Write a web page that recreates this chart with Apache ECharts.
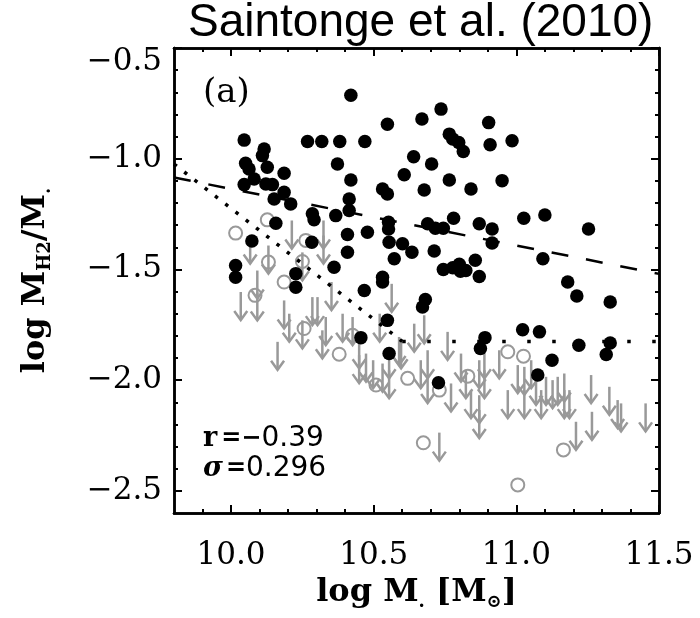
<!DOCTYPE html>
<html>
<head>
<meta charset="utf-8">
<script src="https://cdn.jsdelivr.net/npm/echarts@6/dist/echarts.min.js"></script>
<style>html,body{margin:0;padding:0;background:#fff}#c{width:700px;height:618px}</style>
</head>
<body>
<div id="c"></div>
<script>
// ---- data ----
const titleText = 'Saintonge et al. (2010)';
const xMajorTicks = [10.0, 10.5, 11.0, 11.5];
const xMinorTicks = [9.9, 10.1, 10.2, 10.3, 10.4, 10.6, 10.7, 10.8, 10.9, 11.1, 11.2, 11.3, 11.4];
const yMajorTicks = [-2.5, -2.0, -1.5, -1.0, -0.5];
const yMinorTicks = [-2.4, -2.3, -2.2, -2.1, -1.9, -1.8, -1.7, -1.6, -1.4, -1.3, -1.2, -1.1, -0.9, -0.8, -0.7, -0.6];

// detections (black filled circles)
const detections = [
[10.42,-0.713],[10.548,-0.844],[10.046,-0.916],[10.268,-0.922],[10.318,-0.922],[10.381,-0.922],[10.469,-0.922],
[10.116,-0.956],[10.110,-0.986],[10.051,-1.021],[10.063,-1.046],[10.127,-1.039],[10.186,-1.066],[10.373,-1.024],
[10.42,-1.096],[10.081,-1.092],[10.046,-1.117],[10.122,-1.114],[10.145,-1.117],[10.186,-1.152],[10.151,-1.182],
[10.209,-1.204],[10.285,-1.249],[10.291,-1.276],[10.367,-1.257],[10.414,-1.182],[10.414,-1.234],[10.531,-1.137],
[10.548,-1.159],[10.607,-1.072],[10.157,-1.291],[10.478,-1.332],[10.408,-1.342],[10.408,-1.422],[10.552,-1.287],
[10.552,-1.317],[10.554,-1.377],[10.601,-1.384],[10.634,-1.422],[10.572,-1.452],[10.073,-1.372],[10.283,-1.377],
[10.016,-1.482],[10.016,-1.535],[10.227,-1.519],[10.227,-1.580],[10.361,-1.490],[10.467,-1.595],[10.531,-1.535],
[10.531,-1.557],[10.548,-1.730],[10.455,-1.808],[10.554,-1.880],
[10.736,-0.776],[10.669,-0.821],[10.903,-0.837],[10.765,-0.889],[10.777,-0.911],[10.798,-0.927],[10.814,-0.967],
[10.908,-0.937],[10.985,-0.919],[10.640,-0.991],[10.703,-1.024],[10.765,-1.096],[10.677,-1.141],[10.841,-1.137],
[10.950,-1.099],[10.689,-1.294],[10.716,-1.314],[10.744,-1.314],[10.780,-1.269],[10.870,-1.294],[10.915,-1.317],
[10.915,-1.381],[11.026,-1.269],[11.100,-1.254],[11.253,-1.317],[10.712,-1.417],[10.744,-1.500],[10.777,-1.492],
[10.800,-1.477],[10.804,-1.508],[10.823,-1.505],[10.856,-1.459],[10.870,-1.532],[11.093,-1.452],[11.180,-1.557],
[11.212,-1.620],[11.329,-1.647],[10.681,-1.636],[10.671,-1.670],
[10.890,-1.808],[10.874,-1.857],[11.022,-1.772],[11.081,-1.782],[11.125,-1.910],[11.219,-1.842],[11.329,-1.832],
[11.315,-1.884],[11.075,-1.977],[10.727,-2.012]
];

// tentative detections (grey open circles)
const tentative = [
[10.127,-1.276],[10.016,-1.336],[10.262,-1.369],[10.131,-1.467],[10.25,-1.464],[10.186,-1.557],[10.084,-1.617],
[10.256,-1.767],[10.379,-1.883],[10.426,-1.797],[10.508,-2.022],[10.619,-1.992],[10.730,-2.045],[10.970,-1.872],
[11.025,-1.892],[10.83,-1.982],[10.674,-2.283],[11.165,-2.315],[11.005,-2.473]
];

// upper limits (grey down arrows), value = top of arrow
const upperLimits = [
[10.213,-1.279],[10.324,-1.279],[10.324,-1.347],[10.067,-1.347],[10.131,-1.392],[10.25,-1.423],[10.352,-1.557],
[10.034,-1.602],[10.092,-1.505],[10.092,-1.604],[10.186,-1.640],[10.163,-1.827],[10.204,-1.700],[10.250,-1.730],
[10.285,-1.625],[10.303,-1.625],[10.320,-1.775],[10.332,-1.715],[10.391,-1.700],[10.426,-1.715],[10.449,-1.820],
[10.449,-1.887],[10.473,-1.880],[10.498,-1.910],[10.521,-1.700],[10.531,-1.925],[10.554,-1.865],[10.554,-1.955],
[10.563,-1.565],[10.589,-1.805],[10.642,-1.745],
[10.596,-1.820],[10.677,-1.707],[10.665,-1.910],[10.689,-1.865],[10.689,-1.977],[10.730,-2.237],[10.759,-1.782],
[10.771,-2.015],[10.806,-1.880],[10.823,-1.955],[10.841,-2.045],[10.870,-1.910],[10.870,-2.068],[10.870,-2.135],
[10.888,-1.865],[10.888,-1.955],[10.940,-1.865],[10.970,-2.045],[11.005,-1.932],[11.028,-1.940],[11.028,-2.045],
[11.052,-1.910],[11.069,-1.985],[11.087,-2.045],[11.104,-1.985],[11.127,-2.000],[11.145,-1.985],[11.168,-1.970],
[11.168,-2.045],[11.186,-2.045],[11.209,-2.188],[11.262,-1.977],[11.265,-2.143],[11.326,-2.030],[11.355,-2.090],
[11.367,-2.105],[11.453,-2.105]
];

// fit lines
const dashedFit = [[9.8,-1.085],[11.5,-1.52]];
const dottedDiag = [[9.8,-1.024],[10.6,-1.825]];
const dottedFlat = [[10.6,-1.825],[11.5,-1.825]];

const statR = '−0.39';
const statSigma = '0.296';

// ---- chart ----
const GREY = '#999999';
const fmt = v => v.toFixed(1).replace('-', '−');
const tickFont = {fontFamily: 'DejaVu Serif', fontSize: 31, color: '#000'};

function xAx(pos, major, labels) {
  return {
    type: 'value', min: 9.8, max: 11.5, position: pos,
    axisLine: {show: true, onZero: false, lineStyle: {color: '#000', width: 2.5}},
    axisTick: {show: true, inside: true, length: major ? 8 : 4, customValues: major ? xMajorTicks : xMinorTicks,
               lineStyle: {color: '#000', width: 2}},
    axisLabel: labels ? Object.assign({show: true, customValues: xMajorTicks, margin: 27, formatter: v => v.toFixed(1)}, tickFont) : {show: false},
    splitLine: {show: false}
  };
}
function yAx(pos, major, labels) {
  return {
    type: 'value', min: -2.6, max: -0.5, position: pos,
    axisLine: {show: true, onZero: false, lineStyle: {color: '#000', width: 2.5}},
    axisTick: {show: true, inside: true, length: major ? 8 : 4, customValues: major ? yMajorTicks : yMinorTicks,
               lineStyle: {color: '#000', width: 2}},
    axisLabel: labels ? Object.assign({
        show: true, customValues: yMajorTicks, margin: 12,
        formatter: v => Math.abs(v + 0.5) < 1e-6 ? '{t|' + fmt(v) + '}' : fmt(v),
        rich: {t: {fontFamily: 'DejaVu Serif', fontSize: 31, color: '#000', padding: [28, 0, 0, 0]}}
      }, tickFont) : {show: false},
    splitLine: {show: false}
  };
}

const nameFont = {fontFamily: 'DejaVu Serif', fontWeight: 'bold', fontSize: 32, color: '#000'};
const subFont = {fontFamily: 'DejaVu Serif', fontWeight: 'bold', fontSize: 18, color: '#000', verticalAlign: 'bottom', padding: [0, 0, -2, 0]};

const xs = [xAx('bottom', true, true), xAx('bottom', false, false), xAx('top', true, false), xAx('top', false, false)];
xs[0].name = '{m|log M}{s|.}{m| [M}{s|⊙}{m|]}';
xs[0].nameLocation = 'middle';
xs[0].nameGap = 64;
xs[0].nameTextStyle = {rich: {m: nameFont, s: subFont}};

const ys = [yAx('left', true, true), yAx('left', false, false), yAx('right', true, false), yAx('right', false, false)];
ys[0].name = '{m|log M}{s|H2}{m|/M}{s|.}';
ys[0].nameLocation = 'middle';
ys[0].nameRotate = 90;
ys[0].nameGap = 122;
ys[0].nameTextStyle = {rich: {m: nameFont, s: subFont}};

const statRich = {
  r: {font: 'bold 27px "DejaVu Serif"', fill: '#000', padding: [0, 4, 0, 0]},
  s: {font: 'italic bold 27px "DejaVu Serif"', fill: '#000', padding: [0, 3, 0, 0]},
  o: {font: 'bold 24px "DejaVu Sans"', fill: '#000'},
  n: {font: '28px "DejaVu Sans"', fill: '#000'}
};

const chart = echarts.init(document.getElementById('c'), null, {renderer: 'canvas'});
chart.setOption({
  animation: false,
  backgroundColor: '#fff',
  title: {
    text: titleText, left: 188, top: 0, padding: 0,
    textStyle: {fontFamily: 'Liberation Sans', fontSize: 46, fontWeight: 'normal', color: '#000'}
  },
  grid: {left: 174, right: 41, top: 48, bottom: 105, containLabel: false, outerBoundsMode: 'none'},
  xAxis: xs,
  yAxis: ys,
  graphic: [
    {type: 'text', left: 203, top: 76, style: {text: '(a)', font: '34px "DejaVu Serif"', fill: '#000'}},
    {type: 'text', left: 203, top: 425, style: {
      text: '{r|r}{o|=−}{n|' + statR.replace('−', '') + '}', rich: statRich
    }},
    {type: 'text', left: 203, top: 455, style: {
      text: '{s|σ}{o|=}{n|' + statSigma + '}', rich: statRich
    }}
  ],
  series: [
    {
      type: 'custom', name: 'upper limits', xAxisIndex: 0, yAxisIndex: 0, clip: true,
      data: upperLimits,
      renderItem: function (params, api) {
        const p = api.coord([api.value(0), api.value(1)]);
        const L = 28, hw = 6.5, hh = 9;
        return {type: 'group', children: [
          {type: 'line', shape: {x1: p[0], y1: p[1], x2: p[0], y2: p[1] + L}, style: {stroke: GREY, lineWidth: 2.5}},
          {type: 'polyline', shape: {points: [[p[0] - hw, p[1] + L - hh], [p[0], p[1] + L], [p[0] + hw, p[1] + L - hh]]},
           style: {stroke: GREY, fill: null, lineWidth: 2.5}}
        ]};
      }
    },
    {
      type: 'scatter', name: 'tentative', data: tentative, symbol: 'circle', symbolSize: 13,
      itemStyle: {color: 'rgba(255,255,255,0)', borderColor: GREY, borderWidth: 2, opacity: 1}
    },
    {
      type: 'scatter', name: 'detections', data: detections, symbol: 'circle', symbolSize: 13.5,
      itemStyle: {color: '#000', opacity: 1}
    },
    {
      type: 'line', name: 'fit', data: dashedFit, symbol: 'none',
      lineStyle: {color: '#000', width: 2.5, type: [17, 18]}
    },
    {
      type: 'line', name: 'limit1', data: dottedDiag, symbol: 'none',
      lineStyle: {color: '#000', width: 3.5, type: [3.5, 9.5]}
    },
    {
      type: 'line', name: 'limit2', data: dottedFlat, symbol: 'none',
      lineStyle: {color: '#000', width: 3.5, type: [3.5, 21.5]}
    }
  ]
});
</script>
</body>
</html>
